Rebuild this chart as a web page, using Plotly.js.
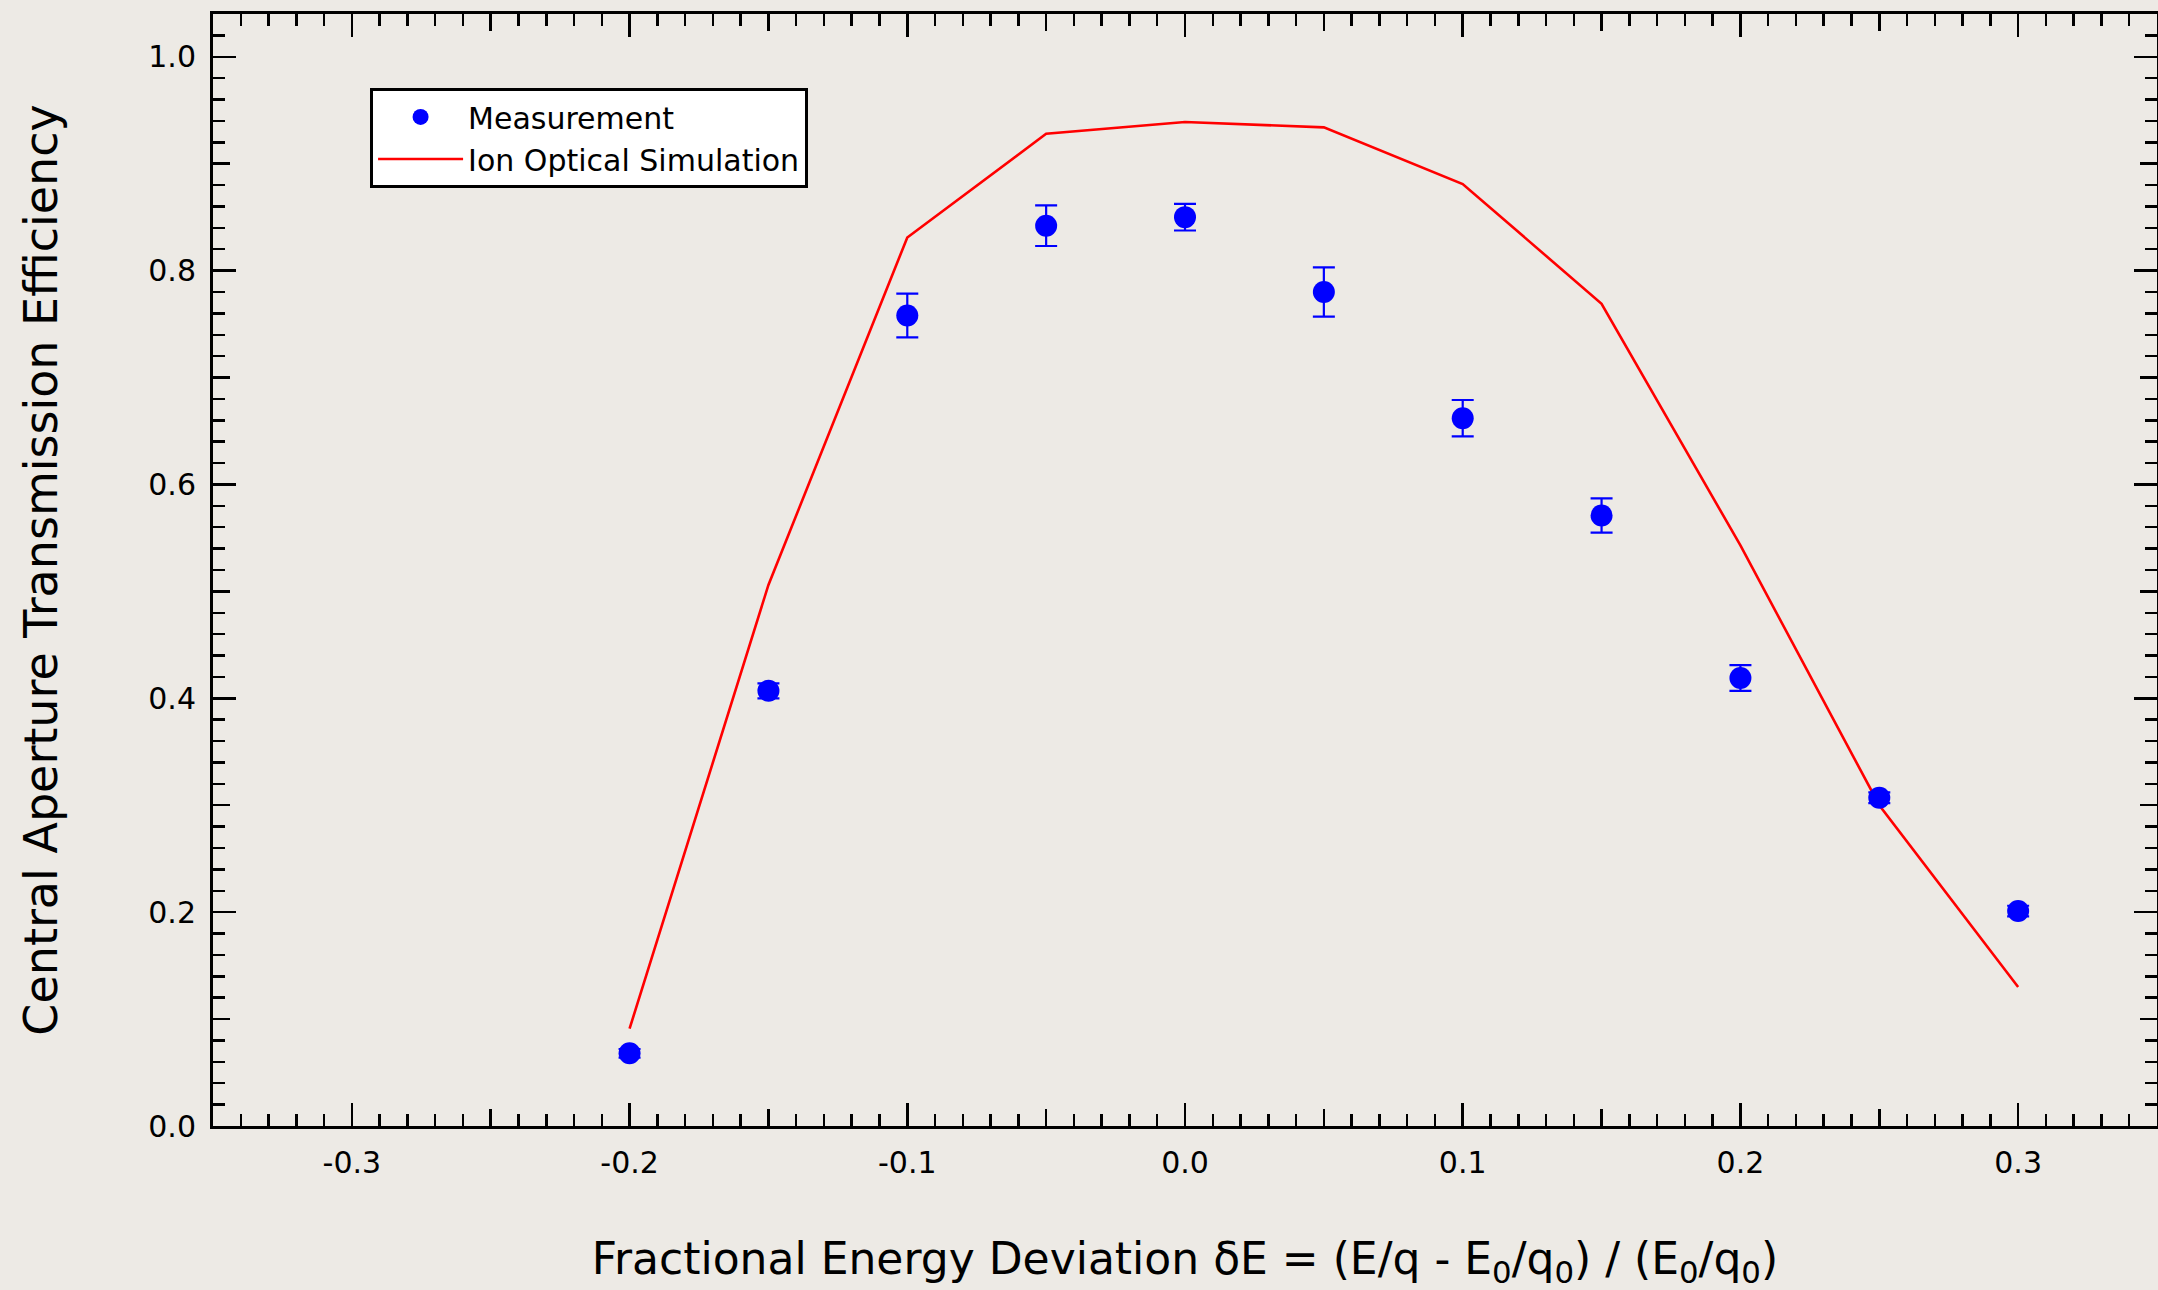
<!DOCTYPE html>
<html>
<head>
<meta charset="utf-8">
<script src="https://cdn.plot.ly/plotly-3.0.1.min.js"></script>
<style>
  html, body { margin: 0; padding: 0; background: #edeae5; }
  #chart { width: 2158px; height: 1290px; }
</style>
</head>
<body>
<div id="chart"></div>
<script>
// Data
const deltaE = [-0.2, -0.15, -0.1, -0.05, 0.0, 0.05, 0.1, 0.15, 0.2, 0.25, 0.3];
const measurement = [0.068, 0.407, 0.758, 0.842, 0.850, 0.780, 0.662, 0.571, 0.419, 0.307, 0.201];
const measurementErr = [0.004, 0.007, 0.0205, 0.019, 0.0125, 0.023, 0.017, 0.016, 0.012, 0.005, 0.005];
const simulation = [0.091, 0.506, 0.831, 0.928, 0.939, 0.934, 0.881, 0.769, 0.543, 0.300, 0.130];
const seriesNames = ['Measurement', 'Ion Optical Simulation'];
const xTickVals = [-0.3, -0.2, -0.1, 0.0, 0.1, 0.2, 0.3];
const xTickLabels = ['-0.3', '-0.2', '-0.1', '0.0', '0.1', '0.2', '0.3'];
const yTickVals = [0.0, 0.2, 0.4, 0.6, 0.8, 1.0];
const yTickLabels = ['0.0', '0.2', '0.4', '0.6', '0.8', '1.0'];
const xTitle = 'Fractional Energy Deviation δE = (E/q - E<sub>0</sub>/q<sub>0</sub>) / (E<sub>0</sub>/q<sub>0</sub>)';
const yTitle = 'Central Aperture Transmission Efficiency';

const FONT = 'DejaVu Sans, Lucida Grande, sans-serif';
const BG = '#edeae5';
const XR = [-0.35, 0.35];
const YR = [0, 1.04];

const traces = [
  {
    x: deltaE, y: simulation, name: seriesNames[1], type: 'scatter', mode: 'lines',
    line: { color: '#ff0000', width: 2.6 }, showlegend: true, legendrank: 2
  },
  {
    x: deltaE, y: measurement, name: seriesNames[0], type: 'scatter', mode: 'markers',
    marker: { color: '#0000ff', size: 22 },
    error_y: { type: 'data', array: measurementErr, visible: true, color: '#0000ff', thickness: 2.2, width: 11 },
    legendrank: 1
  },
  { x: [], y: [], xaxis: 'x2', yaxis: 'y2', showlegend: false, hoverinfo: 'skip' }
];

const tickCommon = { ticks: 'inside', tickcolor: '#000', tickwidth: 2.5, showgrid: false, zeroline: false };

const layout = {
  width: 2158, height: 1290,
  paper_bgcolor: BG, plot_bgcolor: BG,
  margin: { l: 213, r: 1, t: 14, b: 164, pad: 0 },
  font: { family: FONT, size: 30, color: '#000' },
  showlegend: true,
  legend: {
    x: 0.0808, y: 0.9335, xanchor: 'left', yanchor: 'top',
    bgcolor: '#ffffff', bordercolor: '#000', borderwidth: 3,
    font: { family: FONT, size: 30, color: '#000' },
    itemwidth: 85, traceorder: 'normal'
  },
  xaxis: Object.assign({}, tickCommon, {
    range: XR, tickmode: 'array', tickvals: xTickVals, ticktext: xTickLabels, ticklen: 23,
    showline: true, linecolor: '#000', linewidth: 3, mirror: 'ticks',
    minor: { dtick: 0.01, tick0: 0, ticks: 'inside', ticklen: 12, tickwidth: 2.5, tickcolor: '#000', showgrid: false },
    tickfont: { family: FONT, size: 30, color: '#000' },
    ticklabelstandoff: 8,
    title: { text: xTitle, font: { family: FONT, size: 44, color: '#000' }, standoff: 66 }
  }),
  yaxis: Object.assign({}, tickCommon, {
    range: YR, tickmode: 'array', tickvals: yTickVals, ticktext: yTickLabels, ticklen: 23,
    showline: true, linecolor: '#000', linewidth: 3, mirror: 'ticks',
    minor: { dtick: 0.02, tick0: 0, ticks: 'inside', ticklen: 12, tickwidth: 2.5, tickcolor: '#000', showgrid: false },
    tickfont: { family: FONT, size: 30, color: '#000' },
    ticklabelstandoff: 8,
    title: { text: yTitle, font: { family: FONT, size: 46, color: '#000' }, standoff: 77 }
  }),
  xaxis2: Object.assign({}, tickCommon, {
    overlaying: 'x', anchor: 'y', side: 'bottom', range: XR, dtick: 0.05, tick0: 0,
    ticklen: 17, showticklabels: false, mirror: 'ticks', showline: false
  }),
  yaxis2: Object.assign({}, tickCommon, {
    overlaying: 'y', anchor: 'x', side: 'left', range: YR, dtick: 0.1, tick0: 0,
    ticklen: 17, showticklabels: false, mirror: 'ticks', showline: false
  })
};

Plotly.newPlot('chart', traces, layout, { staticPlot: true, displayModeBar: false });
</script>
</body>
</html>
